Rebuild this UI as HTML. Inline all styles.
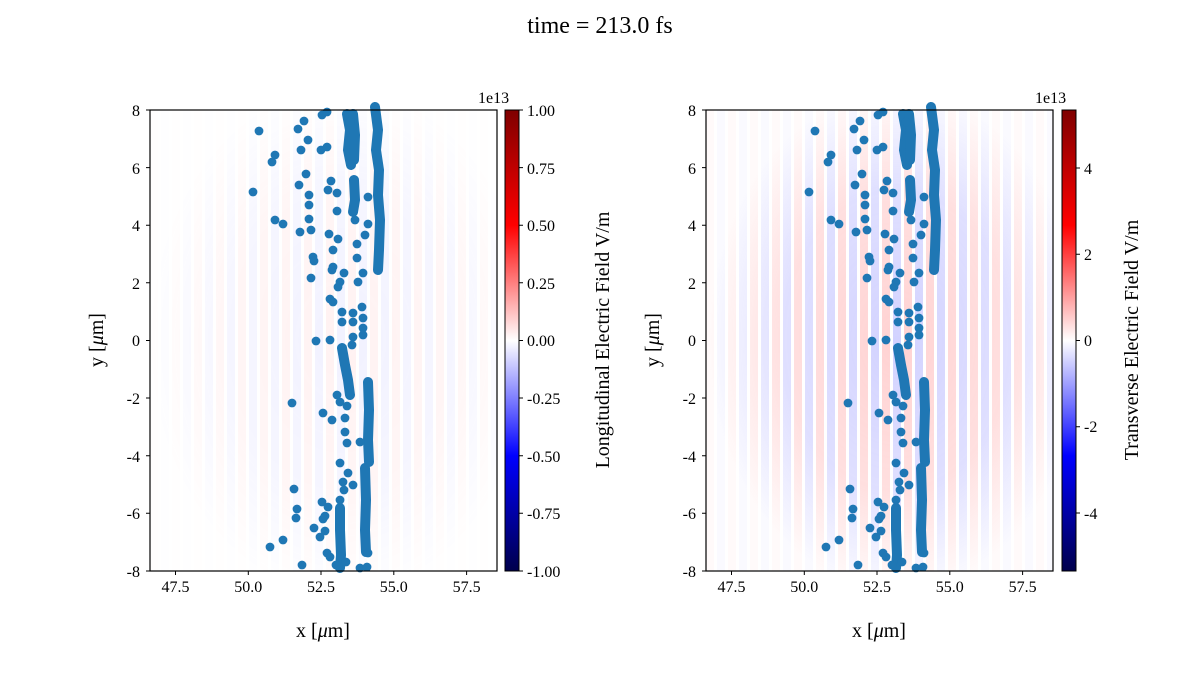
<!DOCTYPE html>
<html><head><meta charset="utf-8"><style>
body{margin:0;background:#fff}
svg{display:block;font-family:"Liberation Serif",serif}
</style></head><body>
<svg width="1200" height="675" viewBox="0 0 1200 675" xmlns="http://www.w3.org/2000/svg">
<defs>
<linearGradient id="cm" x1="0" y1="1" x2="0" y2="0">
<stop offset="0" stop-color="#00004c"/><stop offset="0.25" stop-color="#0000ff"/><stop offset="0.5" stop-color="#ffffff"/><stop offset="0.75" stop-color="#ff0000"/><stop offset="1" stop-color="#7f0000"/>
</linearGradient>
<pattern id="str" width="22" height="40" patternUnits="userSpaceOnUse">
<rect x="0" y="0" width="8" height="40" fill="#ff8080"/><rect x="11" y="0" width="8" height="40" fill="#8080ff"/>
</pattern>
<radialGradient id="fade" cx="0.55" cy="0.5" r="0.55">
<stop offset="0" stop-color="#fff" stop-opacity="1"/><stop offset="0.6" stop-color="#fff" stop-opacity="0.7"/><stop offset="1" stop-color="#fff" stop-opacity="0.1"/>
</radialGradient>
<mask id="m1"><rect x="0" y="0" width="347" height="461" fill="url(#fade)"/></mask>
<g id="pts" fill="#1f77b4" stroke="#1f77b4">
<g stroke-width="10" stroke-linecap="round" fill="none">
<polyline points="197,4 200,20 198,40 201,55"/>
<polyline points="203,4 205,25 204,50"/>
<polyline points="204,70 205,90 203,102"/>
<polyline points="225,-3 228,20 226,40 229,60 228,85 230,110 229,140 228,160"/>
<polyline points="192,238 195,255 198,270 200,285"/>
<polyline points="218,272 219,300 218,330 219,352"/>
<polyline points="190,398 190,420 191,445 190,458"/>
<polyline points="215,358 216,390 215,420 216,442"/>
</g>
<g stroke="none">
<circle cx="109" cy="21" r="4.4"/><circle cx="103" cy="82" r="4.4"/><circle cx="125" cy="45" r="4.4"/><circle cx="122" cy="52" r="4.4"/>
<circle cx="125" cy="110" r="4.4"/><circle cx="133" cy="114" r="4.4"/><circle cx="154" cy="11" r="4.4"/><circle cx="148" cy="19" r="4.4"/>
<circle cx="158" cy="30" r="4.4"/><circle cx="151" cy="40" r="4.4"/><circle cx="156" cy="64" r="4.4"/><circle cx="149" cy="75" r="4.4"/>
<circle cx="159" cy="85" r="4.4"/><circle cx="159" cy="95" r="4.4"/><circle cx="187" cy="101" r="4.4"/><circle cx="159" cy="109" r="4.4"/>
<circle cx="161" cy="120" r="4.4"/><circle cx="150" cy="122" r="4.4"/><circle cx="172" cy="5" r="4.4"/><circle cx="177" cy="2" r="4.4"/>
<circle cx="171" cy="40" r="4.4"/><circle cx="177" cy="37" r="4.4"/><circle cx="181" cy="71" r="4.4"/><circle cx="178" cy="80" r="4.4"/>
<circle cx="187" cy="83" r="4.4"/><circle cx="179" cy="124" r="4.4"/><circle cx="188" cy="129" r="4.4"/><circle cx="183" cy="140" r="4.4"/>
<circle cx="163" cy="147" r="4.4"/><circle cx="164" cy="151" r="4.4"/><circle cx="183" cy="157" r="4.4"/><circle cx="182" cy="160" r="4.4"/>
<circle cx="161" cy="168" r="4.4"/><circle cx="194" cy="163" r="4.4"/><circle cx="190" cy="172" r="4.4"/><circle cx="188" cy="177" r="4.4"/>
<circle cx="180" cy="189" r="4.4"/><circle cx="183" cy="192" r="4.4"/><circle cx="192" cy="202" r="4.4"/><circle cx="192" cy="212" r="4.4"/>
<circle cx="200" cy="12" r="4.4"/><circle cx="218" cy="87" r="4.4"/><circle cx="205" cy="110" r="4.4"/><circle cx="218" cy="114" r="4.4"/>
<circle cx="215" cy="125" r="4.4"/><circle cx="207" cy="134" r="4.4"/><circle cx="207" cy="148" r="4.4"/><circle cx="213" cy="163" r="4.4"/>
<circle cx="208" cy="172" r="4.4"/><circle cx="212" cy="197" r="4.4"/><circle cx="203" cy="203" r="4.4"/><circle cx="203" cy="212" r="4.4"/>
<circle cx="213" cy="208" r="4.4"/><circle cx="213" cy="218" r="4.4"/><circle cx="203" cy="227" r="4.4"/>
<circle cx="166" cy="231" r="4.4"/><circle cx="180" cy="230" r="4.4"/><circle cx="202" cy="235" r="4.4"/><circle cx="213" cy="225" r="4.4"/>
<circle cx="142" cy="293" r="4.4"/><circle cx="173" cy="303" r="4.4"/><circle cx="182" cy="310" r="4.4"/><circle cx="195" cy="308" r="4.4"/>
<circle cx="195" cy="322" r="4.4"/><circle cx="197" cy="333" r="4.4"/><circle cx="210" cy="332" r="4.4"/><circle cx="187" cy="285" r="4.4"/>
<circle cx="190" cy="292" r="4.4"/><circle cx="197" cy="296" r="4.4"/><circle cx="190" cy="353" r="4.4"/><circle cx="198" cy="363" r="4.4"/>
<circle cx="193" cy="372" r="4.4"/><circle cx="203" cy="375" r="4.4"/><circle cx="194" cy="380" r="4.4"/><circle cx="190" cy="390" r="4.4"/>
<circle cx="144" cy="379" r="4.4"/><circle cx="147" cy="399" r="4.4"/><circle cx="146" cy="408" r="4.4"/><circle cx="172" cy="392" r="4.4"/>
<circle cx="178" cy="397" r="4.4"/><circle cx="173" cy="409" r="4.4"/><circle cx="175" cy="406" r="4.4"/><circle cx="164" cy="418" r="4.4"/>
<circle cx="175" cy="421" r="4.4"/><circle cx="170" cy="427" r="4.4"/><circle cx="133" cy="430" r="4.4"/><circle cx="120" cy="437" r="4.4"/>
<circle cx="152" cy="455" r="4.4"/><circle cx="177" cy="443" r="4.4"/><circle cx="180" cy="447" r="4.4"/><circle cx="218" cy="443" r="4.4"/>
<circle cx="210" cy="458" r="4.4"/><circle cx="217" cy="457" r="4.4"/><circle cx="196" cy="452" r="4.4"/><circle cx="186" cy="455" r="4.4"/>
</g></g>
</defs>

<text x="600" y="33" font-size="24" text-anchor="middle">time = 213.0 fs</text>

<!-- LEFT -->
<g transform="translate(150,110)">
<rect width="347" height="461" fill="#fff"/>
<rect width="347" height="461" fill="url(#str)" opacity="0.1" mask="url(#m1)"/>
<use href="#pts"/>
<rect width="347" height="461" fill="none" stroke="#000" stroke-width="1.2"/>
</g>
<g font-size="16" text-anchor="end">
<text x="140" y="116">8</text><text x="140" y="174">6</text><text x="140" y="231">4</text><text x="140" y="289">2</text><text x="140" y="346">0</text><text x="140" y="404">-2</text><text x="140" y="462">-4</text><text x="140" y="519">-6</text><text x="140" y="577">-8</text>
</g>
<g stroke="#000"><path d="M150 110h-4M150 167.6h-4M150 225.2h-4M150 282.8h-4M150 340.5h-4M150 398h-4M150 455.7h-4M150 513.3h-4M150 571h-4M175.5 571v4M248.3 571v4M321 571v4M393.8 571v4M466.6 571v4"/></g>
<g font-size="16" text-anchor="middle">
<text x="175.5" y="592">47.5</text><text x="248.3" y="592">50.0</text><text x="321" y="592">52.5</text><text x="393.8" y="592">55.0</text><text x="466.6" y="592">57.5</text>
<text x="323" y="637" font-size="20">x [<tspan font-style="italic">μ</tspan>m]</text>
</g>
<text transform="translate(103,340) rotate(-90)" font-size="20" text-anchor="middle">y [<tspan font-style="italic">μ</tspan>m]</text>
<rect x="505" y="110" width="14" height="461" fill="url(#cm)" stroke="#000" stroke-width="1"/>
<g stroke="#000"><path d="M519 110h4M519 167.6h4M519 225.2h4M519 282.8h4M519 340.5h4M519 398h4M519 455.7h4M519 513.3h4M519 571h4"/></g>
<g font-size="16">
<text x="527" y="116">1.00</text><text x="527" y="174">0.75</text><text x="527" y="231">0.50</text><text x="527" y="289">0.25</text><text x="527" y="346">0.00</text><text x="527" y="404">-0.25</text><text x="527" y="462">-0.50</text><text x="527" y="519">-0.75</text><text x="527" y="577">-1.00</text>
<text x="478" y="103">1e13</text>
</g>
<text transform="translate(609,340) rotate(-90)" font-size="20" text-anchor="middle">Longitudinal Electric Field V/m</text>

<!-- RIGHT -->
<g transform="translate(706,110)">
<rect width="347" height="461" fill="#fff"/>
<rect width="347" height="461" fill="url(#str)" opacity="0.35" mask="url(#m1)"/>
<use href="#pts"/>
<rect width="347" height="461" fill="none" stroke="#000" stroke-width="1.2"/>
</g>
<g font-size="16" text-anchor="end">
<text x="696" y="116">8</text><text x="696" y="174">6</text><text x="696" y="231">4</text><text x="696" y="289">2</text><text x="696" y="346">0</text><text x="696" y="404">-2</text><text x="696" y="462">-4</text><text x="696" y="519">-6</text><text x="696" y="577">-8</text>
</g>
<g stroke="#000"><path d="M706 110h-4M706 167.6h-4M706 225.2h-4M706 282.8h-4M706 340.5h-4M706 398h-4M706 455.7h-4M706 513.3h-4M706 571h-4M731.5 571v4M804.3 571v4M877 571v4M949.8 571v4M1022.6 571v4"/></g>
<g font-size="16" text-anchor="middle">
<text x="731.5" y="592">47.5</text><text x="804.3" y="592">50.0</text><text x="877" y="592">52.5</text><text x="949.8" y="592">55.0</text><text x="1022.6" y="592">57.5</text>
<text x="879" y="637" font-size="20">x [<tspan font-style="italic">μ</tspan>m]</text>
</g>
<text transform="translate(659,340) rotate(-90)" font-size="20" text-anchor="middle">y [<tspan font-style="italic">μ</tspan>m]</text>
<rect x="1062" y="110" width="14" height="461" fill="url(#cm)" stroke="#000" stroke-width="1"/>
<g stroke="#000"><path d="M1076 168h4M1076 254.3h4M1076 340.5h4M1076 426.7h4M1076 513h4"/></g>
<g font-size="16">
<text x="1084" y="174">4</text><text x="1084" y="260">2</text><text x="1084" y="346">0</text><text x="1084" y="432">-2</text><text x="1084" y="519">-4</text>
<text x="1035" y="103">1e13</text>
</g>
<text transform="translate(1138,340) rotate(-90)" font-size="20" text-anchor="middle">Transverse Electric Field V/m</text>
</svg>
</body></html>
